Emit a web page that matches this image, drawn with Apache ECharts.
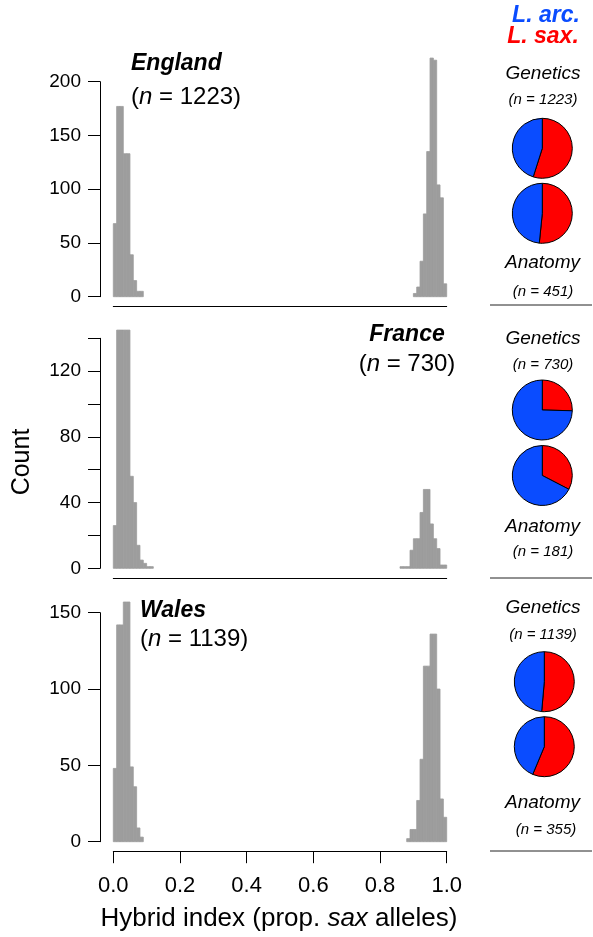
<!DOCTYPE html>
<html lang="en">
<head>
<meta charset="UTF-8">
<title>Hybrid index histograms</title>
<script src="https://cdn.jsdelivr.net/npm/echarts@6/dist/echarts.min.js"></script>
<style>
    html, body { margin: 0; padding: 0; background: #fff; }
    #chart { width: 593px; height: 937px; }
</style>
</head>
<body>
<div id="chart"></div>
<script>
    const binWidth = 0.01;

    const englandLowStart = 0.00;
    const englandLowCounts = [68, 177, 177, 133, 133, 39, 15, 5, 5];
    const englandHighStart = 0.90;
    const englandHighCounts = [3, 9, 33, 77, 135, 222, 220, 104, 92, 12];

    const franceLowStart = 0.00;
    const franceLowCounts = [26, 145, 145, 145, 145, 56, 40, 14, 5, 3, 1, 1];
    const franceHighStart = 0.86;
    const franceHighCounts = [1, 1, 1, 11, 18, 18, 34, 48, 48, 27, 18, 12, 2, 2];

    const walesLowStart = 0.00;
    const walesLowCounts = [48, 142, 142, 157, 157, 49, 36, 9, 3];
    const walesHighStart = 0.88;
    const walesHighCounts = [2, 8, 8, 27, 54, 115, 115, 136, 136, 100, 28, 16];

    const regions = ['England', 'France', 'Wales'];
    const regionN = [1223, 730, 1139];
    const yMax = [200, 140, 150];
    const yInterval = [50, 20, 50];
    const yLabelStep = [50, 40, 50];

    // pie percentages (L. sax. / L. arc.)
    const geneticsSax = [54.9, 25.4, 51.4];
    const geneticsArc = [45.1, 74.6, 48.6];
    const geneticsN = [1223, 730, 1139];
    const anatomySax = [51.6, 32.6, 56.3];
    const anatomyArc = [48.4, 67.4, 43.7];
    const anatomyN = [451, 181, 355];

    const FONT = '"Liberation Sans", Arial, Helvetica, sans-serif';
    const barColor = '#9d9d9d';
    const saxColor = '#ff0000';
    const arcColor = '#0a4cff';

    function toBins(start, counts) {
        return counts.map(function (c, i) {
            let x0 = Math.round((start + i * binWidth) * 1000) / 1000;
            return [x0, Math.round((x0 + binWidth) * 1000) / 1000, c];
        });
    }

    function histItem(params, api) {
        let p0 = api.coord([api.value(0), api.value(2)]);
        let p1 = api.coord([api.value(1), 0]);
        return {
            type: 'rect',
            shape: {x: p0[0], y: p0[1], width: p1[0] - p0[0], height: p1[1] - p0[1]},
            style: {fill: barColor, stroke: barColor, lineWidth: 0.8}
        };
    }

    // panel layout (pixels)
    const gridTop = [81.7, 338.3, 612.7];
    const gridHeight = [215, 230, 229];

    let grids = [], xAxes = [], yAxes = [], series = [];
    let binSets = [
        [toBins(englandLowStart, englandLowCounts), toBins(englandHighStart, englandHighCounts)],
        [toBins(franceLowStart, franceLowCounts), toBins(franceHighStart, franceHighCounts)],
        [toBins(walesLowStart, walesLowCounts), toBins(walesHighStart, walesHighCounts)]
    ];

    for (let i = 0; i < 3; i++) {
        let last = i === 2;
        grids.push({left: 113.3, width: 333.4, top: gridTop[i], height: gridHeight[i]});
        xAxes.push({
            type: 'value', gridIndex: i, min: 0, max: 1, interval: 0.2, offset: 9.5,
            axisLine: {show: true, onZero: false, lineStyle: {color: '#000', width: 1}},
            axisTick: {show: last, length: 12, lineStyle: {color: '#000', width: 1}},
            axisLabel: {
                show: last, margin: 24, fontSize: 22, color: '#000', fontFamily: FONT,
                formatter: function (v) { return v.toFixed(1); }
            },
            splitLine: {show: false}
        });
        let step = yLabelStep[i];
        yAxes.push({
            type: 'value', gridIndex: i, min: 0, max: yMax[i], interval: yInterval[i], offset: 13.3,
            axisLine: {show: true, onZero: false, lineStyle: {color: '#000', width: 1}},
            axisTick: {show: true, length: 12, lineStyle: {color: '#000', width: 1}},
            axisLabel: {
                margin: 19, fontSize: 19, color: '#000', fontFamily: FONT,
                formatter: function (v) { return v % step === 0 ? String(v) : ''; }
            },
            splitLine: {show: false}
        });
        binSets[i].forEach(function (d) {
            series.push({
                type: 'custom', xAxisIndex: i, yAxisIndex: i, clip: false, silent: true,
                renderItem: histItem, data: d
            });
        });
    }

    // pies
    const pieX = [542.3, 542.3, 544.3];
    const genPieY = [148.3, 410, 681.7];
    const anaPieY = [213.3, 475.5, 746.7];

    function pie(cx, cy, sax, arc) {
        return {
            type: 'pie', radius: 30, center: [cx, cy], startAngle: 90, clockwise: true,
            silent: true, label: {show: false}, labelLine: {show: false},
            itemStyle: {borderColor: '#000', borderWidth: 1},
            data: [
                {value: sax, name: 'L. sax.', itemStyle: {color: saxColor}},
                {value: arc, name: 'L. arc.', itemStyle: {color: arcColor}}
            ]
        };
    }
    for (let i = 0; i < 3; i++) {
        series.push(pie(pieX[i], genPieY[i], geneticsSax[i], geneticsArc[i]));
        series.push(pie(pieX[i], anaPieY[i], anatomySax[i], anatomyArc[i]));
    }

    // texts
    function txt(x, y, text, size, opts) {
        opts = opts || {};
        return {
            type: 'text', silent: true, x: x, y: y, rotation: opts.rotation || 0,
            style: {
                text: text, fill: opts.color || '#000',
                fontSize: size, fontFamily: FONT,
                fontStyle: opts.italic ? 'italic' : 'normal',
                fontWeight: opts.bold ? 'bold' : 'normal',
                align: opts.align || 'center', verticalAlign: 'middle',
                rich: opts.rich
            }
        };
    }
    const nRich = {i: {fontStyle: 'italic', fontSize: 24, fontFamily: FONT}};
    const axisRich = {i: {fontStyle: 'italic', fontSize: 26, fontFamily: FONT}};

    const titleX = [131, 407, 140];
    const titleAlign = ['left', 'center', 'left'];
    const titleY = [64, 335, 611];
    const nLineY = [97, 364, 639];
    const genY = [74, 339, 608];
    const genNY = [100, 365, 635];
    const anaY = [262.5, 527, 802.5];
    const anaNY = [291.5, 552, 830];
    const anaNX = [543, 543, 546];
    const sepY = [305, 578, 851];

    let graphics = [
        txt(546, 16, 'L. arc.', 23, {bold: true, italic: true, color: arcColor}),
        txt(543, 37, 'L. sax.', 23, {bold: true, italic: true, color: saxColor}),
        txt(22, 462, 'Count', 25, {rotation: Math.PI / 2}),
        txt(279, 919, 'Hybrid index (prop. {i|sax} alleles)', 26, {rich: axisRich})
    ];
    for (let i = 0; i < 3; i++) {
        graphics.push(txt(titleX[i], titleY[i], regions[i], 23, {bold: true, italic: true, align: titleAlign[i]}));
        graphics.push(txt(titleX[i], nLineY[i], '({i|n} = ' + regionN[i] + ')', 24, {align: titleAlign[i], rich: nRich}));
        graphics.push(txt(543, genY[i], 'Genetics', 19, {italic: true}));
        graphics.push(txt(543, genNY[i], '(n = ' + geneticsN[i] + ')', 15, {italic: true}));
        graphics.push(txt(542.5, anaY[i], 'Anatomy', 19, {italic: true}));
        graphics.push(txt(anaNX[i], anaNY[i], '(n = ' + anatomyN[i] + ')', 15, {italic: true}));
        graphics.push({
            type: 'line', silent: true,
            shape: {x1: 490, y1: sepY[i], x2: 592, y2: sepY[i]},
            style: {stroke: '#222', lineWidth: 1}
        });
    }

    let myChart = echarts.init(document.getElementById('chart'), null, {renderer: 'canvas'});
    myChart.setOption({
        animation: false,
        backgroundColor: '#fff',
        grid: grids,
        xAxis: xAxes,
        yAxis: yAxes,
        series: series,
        graphic: graphics
    });
</script>
</body>
</html>
